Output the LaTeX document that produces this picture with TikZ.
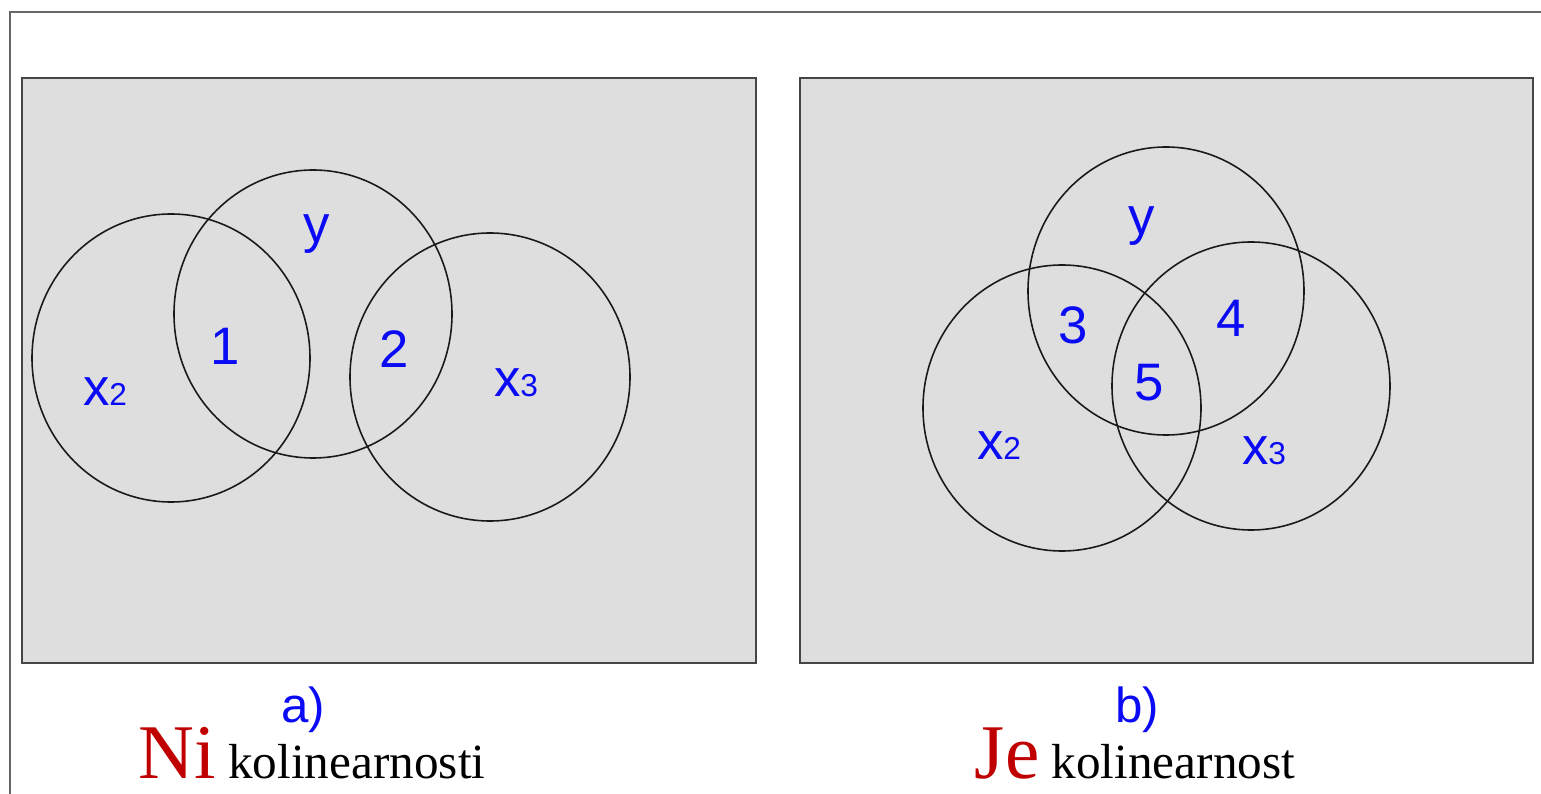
\documentclass[tikz,border=0pt]{standalone}
\usepackage{fontspec}
\setmainfont{Liberation Serif}
\setsansfont{Liberation Sans}
\usepackage{xcolor}
\definecolor{panelgray}{HTML}{DEDEDE}
\definecolor{edgegray}{HTML}{454545}
\definecolor{framegray}{HTML}{666666}
\definecolor{setblue}{HTML}{0A0AF5}
\definecolor{titlered}{HTML}{C00000}
\newcommand{\setsub}[1]{{\fontsize{9}{9}\selectfont #1}}

\begin{document}
\begin{tikzpicture}[x=0.01cm,y=-0.01cm,
  setlbl/.style={anchor=base,text=setblue,inner sep=0pt,font=\sffamily\fontsize{15}{15}\selectfont},
  caplbl/.style={anchor=base,text=setblue,inner sep=0pt,font=\sffamily\fontsize{14}{14}\selectfont},
  verdict/.style={anchor=base,inner sep=0pt,font=\fontsize{14}{14}\selectfont},
  panel/.style={fill=panelgray,draw=edgegray,line width=0.7pt},
  setcirc/.style={draw=black!90,line width=0.45pt}]

\useasboundingbox (0,0) rectangle (1541,794);

% Frame
\draw[framegray,line width=0.7pt] (10,794) -- (10,12) -- (1541,12);

% Panels
\draw[panel] (22,78) rectangle (756,663);
\draw[panel] (800,78) rectangle (1533,663);

% Circles a)
\draw[setcirc] (171,358) ellipse [x radius=139, y radius=144];
\draw[setcirc] (313,314) ellipse [x radius=139, y radius=144];
\draw[setcirc] (490,377) ellipse [x radius=140, y radius=144];

% Circles b)
\draw[setcirc] (1166,291) ellipse [x radius=138, y radius=144];
\draw[setcirc] (1062,408) ellipse [x radius=139, y radius=143];
\draw[setcirc] (1251,386) ellipse [x radius=139, y radius=144];

% Labels a)
\node[setlbl] (ya) at (317,243) {y};
\node[setlbl] (xa2) at (105,406) {x\setsub{2}};
\node[setlbl] (xa3) at (516,397) {x\setsub{3}};
\node[setlbl] (one) at (225,365) {1};
\node[setlbl] (two) at (394,368) {2};

% Labels b)
\node[setlbl] (yb) at (1142,235) {y};
\node[setlbl] (xb2) at (999,460) {x\setsub{2}};
\node[setlbl] (xb3) at (1264,465) {x\setsub{3}};
\node[setlbl] (three) at (1073,344) {3};
\node[setlbl] (four) at (1231,337) {4};
\node[setlbl] (five) at (1149,401) {5};

% Captions
\node[caplbl] (capa) at (303,722) {a)};
\node[caplbl] (capb) at (1137,722) {b)};
\node[verdict] (verdicta) at (312,779) {\textcolor{titlered}{\fontsize{22}{22}\selectfont Ni} kolinearnosti};
\node[verdict] (verdictb) at (1135,779) {\textcolor{titlered}{\fontsize{22}{22}\selectfont Je} kolinearnost};

\end{tikzpicture}
\end{document}
